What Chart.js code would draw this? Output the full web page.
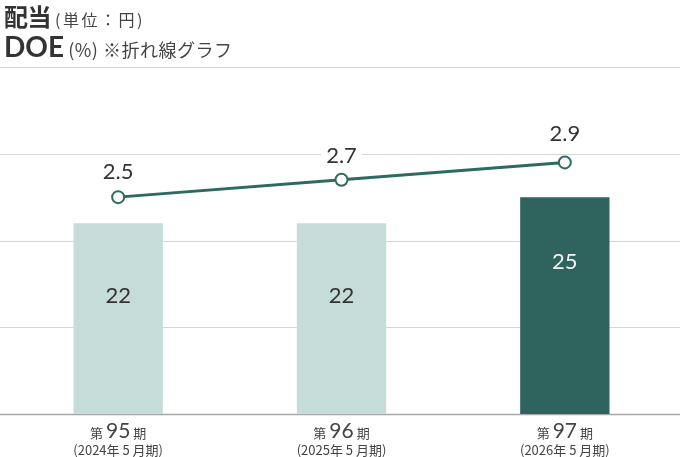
<!DOCTYPE html>
<html>
<head>
<meta charset="utf-8">
<style>
  html, body { margin: 0; padding: 0; background: #fff; }
  #wrap { position: relative; width: 680px; height: 457px; }
  #title { position: absolute; left: 4px; top: 0; color: #333; font-family: Lato, "Noto Sans CJK JP", sans-serif; }
  #title div { height: 31px; line-height: 31px; white-space: nowrap; }
  #title b { font-family: "Noto Sans CJK JP", sans-serif; font-size: 24px; font-weight: 700; letter-spacing: -0.5px; }
  #title span { font-family: "Noto Sans CJK JP", sans-serif; font-size: 16px; font-weight: 400; color: #444; letter-spacing: 2.5px; }
  #title .doe { font-family: Lato, sans-serif; font-size: 28px; letter-spacing: 0; }
  #title .l2 { font-size: 18px; letter-spacing: 0.5px; }
</style>
</head>
<body>
<div id="wrap">
  <canvas id="doeChart" width="680" height="457"></canvas>
  <div id="title">
    <div><b>配当</b> <span>(単位：円)</span></div>
    <div><b class="doe">DOE</b> <span class="l2">(%) ※折れ線グラフ</span></div>
  </div>
</div>

<script src="https://cdn.jsdelivr.net/npm/chart.js"></script>
<script>
  // chart data
  const categories = ['第95期', '第96期', '第97期'];
  const subLabels = ['(2024年 5 月期)', '(2025年 5 月期)', '(2026年 5 月期)'];
  const dividends = [22, 22, 25];
  const doeValues = [2.5, 2.7, 2.9];
  const gridTicks = [0, 10, 20, 30, 40];

  const lineColor = '#2d6a5f';
  const barColors = ['#c5dcd9', '#c5dcd9', '#2f635d'];
  const barTextColors = ['#333', '#333', '#f2f6f5'];
  const barLabelOffset = [73, 73, 65];
  const lineLabelOffset = [25, 24, 29];

  // full width grid lines behind the marks
  const gridPlugin = {
    id: 'fullGrid',
    beforeDatasetsDraw(chart) {
      const ctx = chart.ctx;
      const y = chart.scales.y;
      ctx.save();
      gridTicks.forEach(v => {
        const py = Math.round(y.getPixelForValue(v)) + 0.5;
        ctx.strokeStyle = v === 0 ? '#a8a8a8' : '#d6d6d6';
        ctx.lineWidth = v === 0 ? 1.5 : 1;
        ctx.beginPath();
        ctx.moveTo(0, py);
        ctx.lineTo(chart.width, py);
        ctx.stroke();
      });
      ctx.restore();
    }
  };

  // value labels + category labels
  const labelPlugin = {
    id: 'labels',
    afterDatasetsDraw(chart) {
      const ctx = chart.ctx;
      const x = chart.scales.x;
      ctx.save();
      ctx.textAlign = 'center';
      ctx.textBaseline = 'middle';

      // bar values
      const barMeta = chart.getDatasetMeta(1);
      barMeta.data.forEach((bar, i) => {
        ctx.font = '22px Lato, sans-serif';
        ctx.fillStyle = barTextColors[i];
        ctx.fillText(dividends[i], bar.x, bar.y + barLabelOffset[i]);
      });

      // line values with white box
      const lineMeta = chart.getDatasetMeta(0);
      lineMeta.data.forEach((pt, i) => {
        const txt = doeValues[i].toFixed(1);
        ctx.font = '22px Lato, sans-serif';
        const w = ctx.measureText(txt).width;
        const ly = pt.y - lineLabelOffset[i];
        ctx.fillStyle = '#fff';
        ctx.fillRect(pt.x - w / 2 - 5, ly - 12, w + 10, 24);
        ctx.fillStyle = '#333';
        ctx.fillText(txt, pt.x, ly);
      });

      // x labels
      ctx.textBaseline = 'alphabetic';
      categories.forEach((c, i) => {
        const cx = x.getPixelForValue(i);
        const m = c.match(/^(\D*)(\d+)(\D*)$/);
        const parts = [
          { t: m[1], f: '13px "Noto Sans CJK JP", sans-serif' },
          { t: m[2], f: '21px Lato, sans-serif' },
          { t: m[3], f: '13px "Noto Sans CJK JP", sans-serif' }
        ];
        const gap = 3;
        let total = 0;
        parts.forEach(p => { ctx.font = p.f; p.w = ctx.measureText(p.t).width; total += p.w; });
        total += gap * 2;
        let px = cx - total / 2;
        ctx.textAlign = 'left';
        ctx.fillStyle = '#444';
        parts.forEach(p => {
          ctx.font = p.f;
          ctx.fillText(p.t, px, 437.5);
          px += p.w + gap;
        });
        ctx.textAlign = 'center';
        ctx.font = '13px "Noto Sans CJK JP", sans-serif';
        ctx.fillText(subLabels[i], cx, 455, 96);
      });
      ctx.restore();
    }
  };

  new Chart(document.getElementById('doeChart'), {
    type: 'bar',
    data: {
      labels: categories,
      datasets: [
        {
          type: 'line',
          label: 'DOE',
          data: doeValues,
          yAxisID: 'y1',
          borderColor: lineColor,
          borderWidth: 3,
          pointRadius: 6,
          pointBorderWidth: 2,
          pointBackgroundColor: '#fff',
          pointBorderColor: lineColor,
          order: 0
        },
        {
          type: 'bar',
          label: '配当',
          data: dividends,
          yAxisID: 'y',
          backgroundColor: barColors,
          categoryPercentage: 1,
          barPercentage: 0.4,
          order: 1
        }
      ]
    },
    options: {
      responsive: false,
      animation: false,
      layout: { autoPadding: false, padding: { top: 67, bottom: 43, left: 6.5, right: 3.5 } },
      plugins: {
        legend: { display: false },
        tooltip: { enabled: false }
      },
      scales: {
        x: { display: false, offset: true },
        y: { display: false, min: 0, max: 40 },
        y1: { display: false, min: 0, max: 4 }
      }
    },
    plugins: [gridPlugin, labelPlugin]
  });
</script>
</body>
</html>
